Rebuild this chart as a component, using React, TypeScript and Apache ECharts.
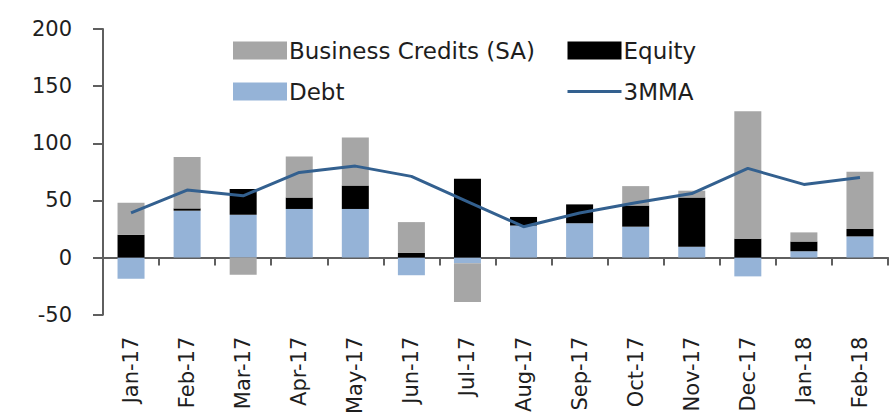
import React, { useEffect, useRef } from "react";
import * as echarts from "echarts";

const categories = [
  "Jan-17", "Feb-17", "Mar-17", "Apr-17", "May-17", "Jun-17", "Jul-17",
  "Aug-17", "Sep-17", "Oct-17", "Nov-17", "Dec-17", "Jan-18", "Feb-18",
];
const debt = [-18.5, 41, 37.5, 42.5, 42.5, -15.5, -5, 28, 30, 27, 9.5, -16.5, 5.5, 18.5];
const equity = [20, 2, 22.5, 10, 20.5, 4, 69, 7.5, 16.5, 18.5, 43, 16.5, 8.5, 6.5];
const businessCredits = [28, 45, -15, 36, 42, 27, -34, 0, 0, 17, 6, 111.5, 8, 50];
const mma3 = [39, 59, 54, 74.5, 80, 71, 49, 27, 39, 48, 56, 78, 64, 70];

const FONT = "DejaVu Sans";
const TEXT = "#1e1e1e";
const AXIS = "#5f5f5f";
const LINE = "#33608f";

export default function App() {
  const ref = useRef<HTMLDivElement>(null);
  useEffect(() => {
    if (!ref.current) return;
    const chart = echarts.init(ref.current, undefined, { renderer: "svg" });
    const legendText = { fontFamily: FONT, fontSize: 23, color: TEXT, lineHeight: 20, padding: [0, 0, 0, -3] };
    chart.setOption({
      animation: false,
      backgroundColor: "#ffffff",
      grid: { left: 103, right: 1, top: 29, bottom: 95, containLabel: false },
      legend: [
        {
          orient: "vertical",
          left: 233,
          top: 39,
          padding: 0,
          itemWidth: 54,
          itemHeight: 18,
          itemGap: 18,
          data: [
            { name: "Business Credits (SA)", icon: "rect" },
            { name: "Debt", icon: "rect" },
          ],
          textStyle: legendText,
        },
        {
          orient: "vertical",
          left: 566,
          top: 39,
          padding: 0,
          itemWidth: 54,
          itemHeight: 18,
          itemGap: 18,
          lineStyle: { width: 3, color: LINE },
          data: [
            { name: "Equity", icon: "rect" },
            { name: "3MMA", itemStyle: { opacity: 0, color: "rgba(0,0,0,0)", borderWidth: 0 } },
          ],
          textStyle: legendText,
        },
      ],
      xAxis: [
        {
          type: "category",
          data: categories,
          position: "bottom",
          axisLine: { show: true, onZero: true, lineStyle: { color: AXIS, width: 2 } },
          axisTick: { show: true, length: 8, alignWithLabel: false, lineStyle: { color: AXIS, width: 2 } },
          axisLabel: { show: false },
        },
        {
          type: "category",
          data: categories,
          position: "bottom",
          axisLine: { show: false, onZero: false },
          axisTick: { show: false },
          axisLabel: {
            show: true,
            rotate: 90,
            margin: 22,
            interval: 0,
            fontFamily: FONT,
            fontSize: 21,
            color: TEXT,
          },
        },
      ],
      yAxis: {
        type: "value",
        min: -50,
        max: 200,
        interval: 50,
        splitLine: { show: false },
        axisLine: { show: true, lineStyle: { color: AXIS, width: 2 } },
        axisTick: { show: true, length: 10, lineStyle: { color: AXIS, width: 2 } },
        axisLabel: { margin: 31, fontFamily: FONT, fontSize: 21, color: TEXT },
      },
      series: [
        {
          name: "Debt",
          type: "bar",
          stack: "total",
          barWidth: 27,
          data: debt,
          itemStyle: { color: "#95b3d7" },
        },
        {
          name: "Equity",
          type: "bar",
          stack: "total",
          barWidth: 27,
          data: equity,
          itemStyle: { color: "#000000" },
        },
        {
          name: "Business Credits (SA)",
          type: "bar",
          stack: "total",
          barWidth: 27,
          data: businessCredits,
          itemStyle: { color: "#a6a6a6" },
        },
        {
          name: "3MMA",
          type: "line",
          data: mma3,
          symbol: "none",
          lineStyle: { color: LINE, width: 3 },
          itemStyle: { color: LINE },
          z: 5,
        },
      ],
    });
    return () => chart.dispose();
  }, []);
  return (
    <div
      ref={ref}
      style={{ position: "absolute", left: 0, top: 0, width: 889, height: 417 }}
    />
  );
}
